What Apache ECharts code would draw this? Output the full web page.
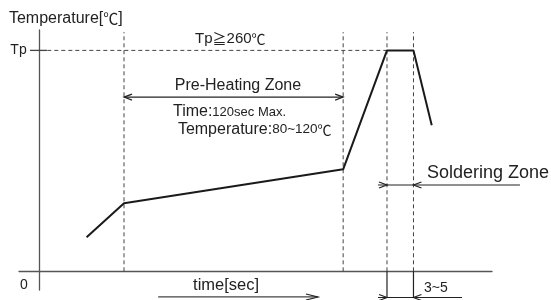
<!DOCTYPE html>
<html><head><meta charset="utf-8">
<script src="https://cdn.jsdelivr.net/npm/echarts@6/dist/echarts.min.js"></script>
<style>html,body{margin:0;padding:0;background:#fff}#c{width:551px;height:300px}</style>
</head><body><div id="c"></div>
<script>
// Reflow profile (schematic): time [sec] vs temperature [°C]
const profileTime = [26, 46.5, 166.5, 190.5, 205, 215];
const profileTemp = [40, 80, 120, 260, 260, 172];
// zone boundaries (time)
const preheatZone = [46.5, 166.5];
const solderZone = [190.5, 205];
const peakTemp = 260;
const yTickValues = [260];
const yTickLabels = ['Tp'];

const FONT = '"Liberation Sans", Arial, sans-serif';
const CJK = '"Noto Sans CJK JP", sans-serif';
const INK = '#222';

function arrowHead(tip, dir, len, half) {
  return {
    type: 'polyline',
    shape: { points: [[tip[0] - dir * len, tip[1] - half], tip, [tip[0] - dir * len, tip[1] + half]] },
    style: { stroke: INK, lineWidth: 1.2, fill: null }
  };
}
function seg(a, b, style) {
  return { type: 'line', shape: { x1: a[0], y1: a[1], x2: b[0], y2: b[1] }, style: Object.assign({ stroke: INK, lineWidth: 1.2 }, style) };
}
function richTxt(p, text, rich, align) {
  return {
    type: 'text', x: p[0], y: p[1],
    style: { text: text, rich: rich, align: align || 'left', verticalAlign: 'middle' }
  };
}
function st(size, cjk) {
  return { fontSize: size, fontFamily: cjk ? CJK : FONT, fill: INK };
}

const dashStyle = { stroke: '#444', lineWidth: 1, lineDash: [4, 3] };

function renderAnnotations(params, api) {
  const c = (x, y) => api.coord([x, y]);
  const ch = [];
  [preheatZone[0], preheatZone[1], solderZone[0], solderZone[1]].forEach(t => {
    ch.push(seg(c(t, 0), c(t, 281.5), dashStyle));
  });
  solderZone.forEach(t => ch.push(seg(c(t, 0), c(t, -31.5), { stroke: INK, lineWidth: 1.2 })));
  ch.push(seg(c(4.5, peakTemp), c(solderZone[0], peakTemp), dashStyle));

  // y tick + label
  yTickValues.forEach((v, i) => {
    ch.push(seg(c(-5, v), c(4.3, v), { stroke: '#444', lineWidth: 1.3 }));
    ch.push(richTxt(c(-6.8, v), '{a|' + yTickLabels[i] + '}', { a: st(14) }, 'right'));
  });

  // Pre-heating zone arrow
  const py = 205;
  ch.push(seg(c(preheatZone[0], py), c(preheatZone[1], py)));
  ch.push(arrowHead(c(preheatZone[0], py), -1, 8, 3));
  ch.push(arrowHead(c(preheatZone[1], py), 1, 8, 3));
  ch.push(richTxt(c(108.9, 218), '{a|Pre-Heating Zone}', { a: st(16) }, 'center'));
  ch.push(richTxt(c(73.3, 187.5), '{a|Time:}{b|120sec Max.}', { a: st(16), b: st(13) }));
  ch.push(richTxt(c(76, 167), '{a|Temperature:}{b|80~120}{c|℃}', { a: st(16), b: st(13.5), c: st(14, true) }));
  ch.push(richTxt(c(85.4, 273.4), '{a|Tp}{c|≧}{a|260}{c|℃}', { a: st(15), c: st(14, true) }));

  // Soldering zone arrow
  const sy = 101.6;
  ch.push(seg(c(185.6, sy), c(263.3, sy)));
  ch.push(arrowHead(c(solderZone[0], sy), 1, 8, 3));
  ch.push(arrowHead(c(solderZone[1], sy), -1, 8, 3));
  ch.push(richTxt(c(212.4, 115.7), '{a|Soldering Zone}', { a: st(18) }));

  // bottom 3~5 arrow
  const by = -30.8;
  ch.push(seg(c(185.6, by), c(231.6, by)));
  ch.push(arrowHead(c(solderZone[0], by), 1, 8, 3));
  ch.push(arrowHead(c(solderZone[1], by), -1, 8, 3));
  ch.push(richTxt(c(210.8, -19.6), '{a|3~5}', { a: st(14) }));

  // time arrow
  const ty = -30.2;
  ch.push(seg(c(65.2, ty), c(152.7, ty), { stroke: '#444' }));
  ch.push(arrowHead(c(152.7, ty), 1, 12, 3));
  ch.push(richTxt(c(102.4, -17), '{a|time[sec]}', { a: st(16.5) }, 'center'));

  // origin and axis title
  ch.push(richTxt(c(-8.3, -16), '{a|0}', { a: st(14) }, 'center'));
  ch.push(richTxt(c(-16.5, 298), '{a|Temperature[}{c|℃}{a|]}', { a: st(16), c: st(15, true) }));

  return { type: 'group', children: ch };
}

const chart = echarts.init(document.getElementById('c'), null, { renderer: 'canvas' });
chart.setOption({
  animation: false,
  backgroundColor: '#fff',
  grid: { left: 19, right: 59, top: 30, bottom: 10, containLabel: false, outerBoundsMode: 'none' },
  xAxis: {
    type: 'value', min: -11, max: 248,
    axisLine: { onZero: true, lineStyle: { color: '#555', width: 1.3 } },
    axisTick: { show: false }, axisLabel: { show: false }, splitLine: { show: false }
  },
  yAxis: {
    type: 'value', min: -22, max: 284,
    axisLine: { onZero: true, lineStyle: { color: '#555', width: 1.3 } },
    axisTick: { show: false }, axisLabel: { show: false },
    splitLine: { show: false }
  },
  series: [
    {
      type: 'line', data: profileTime.map((t, i) => [t, profileTemp[i]]),
      symbol: 'none', lineStyle: { color: '#1a1a1a', width: 2 }, z: 5
    },
    {
      type: 'custom', data: [[0, 0]], clip: false, silent: true,
      renderItem: renderAnnotations, z: 4
    }
  ]
});
</script></body></html>
